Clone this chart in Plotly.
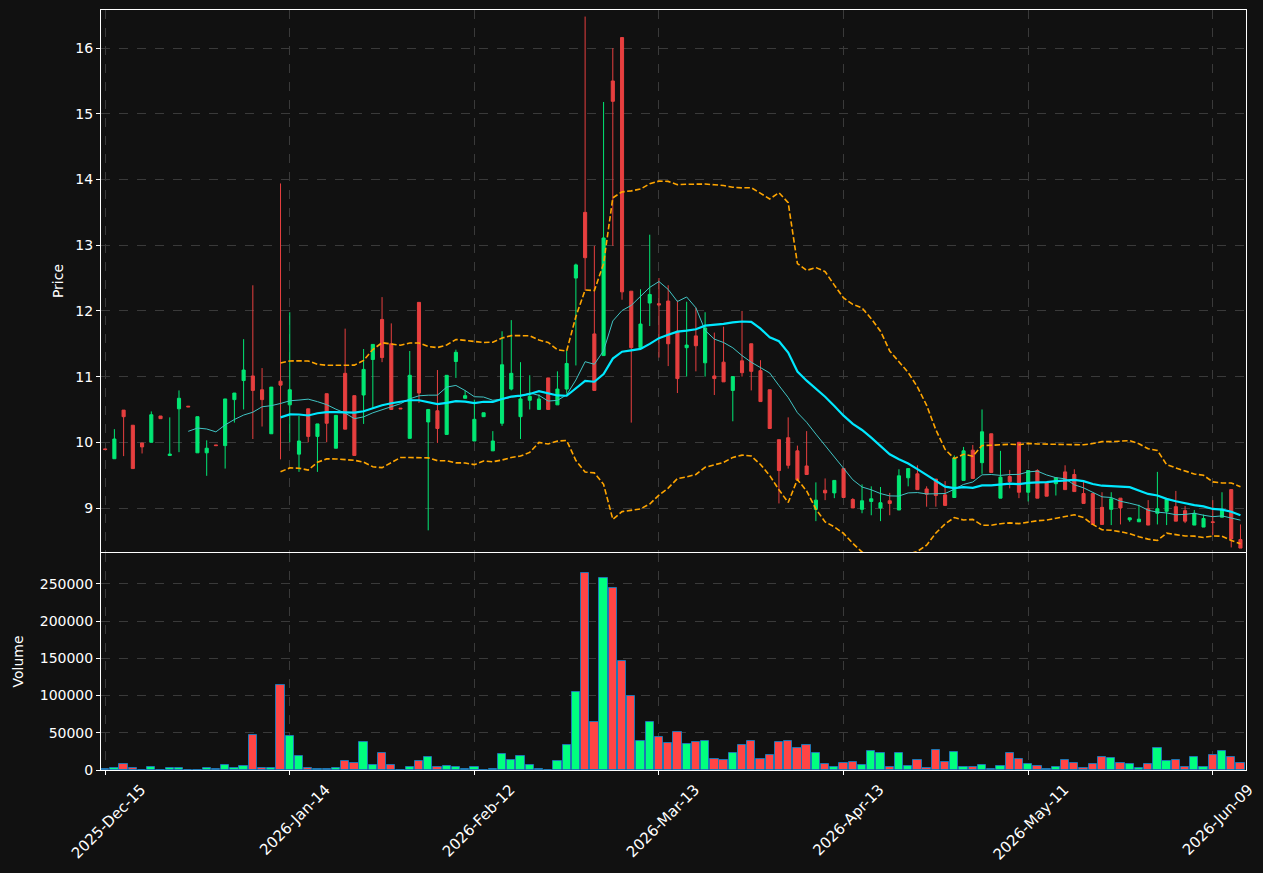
import numpy as np
import pandas as pd
import plotly.graph_objects as go

# ---------------- data ----------------
holidays = ["2025-12-25", "2026-01-01", "2026-01-19", "2026-02-16", "2026-04-03", "2026-05-25"]
start_date = "2025-12-15"

opens = [9.90, 9.75, 10.49, 10.26, 9.99, 10.00, 10.40, 9.80, 10.51, 10.55,
         9.84, 9.84, 9.96, 9.95, 10.65, 10.94, 11.01, 10.80, 10.13, 10.93,
         10.57, 9.82, 10.51, 10.09, 10.74, 9.91, 11.05, 10.71, 10.72, 11.26,
         11.87, 11.50, 10.52, 10.06, 12.13, 10.31, 10.48, 10.12, 11.23, 10.67,
         10.02, 10.39, 9.87, 10.29, 10.81, 10.39, 10.64, 10.50, 10.98, 10.57,
         10.81, 12.50, 13.50, 11.65, 11.32, 15.50, 16.16, 12.30, 11.44, 12.12,
         12.11, 12.15, 11.69, 11.44, 11.62, 11.21, 11.01, 11.22, 10.79, 11.24,
         11.50, 11.09, 10.80, 10.04, 10.07, 9.87, 9.64, 8.98, 9.27, 9.23,
         9.60, 9.13, 8.98, 9.10, 9.00, 9.11, 8.97, 9.46, 9.52, 9.29,
         9.44, 9.20, 9.16, 9.42, 9.88, 9.69, 10.13, 9.15, 9.48, 10.00,
         9.24, 9.57, 9.38, 9.37, 9.55, 9.51, 9.22, 9.22, 9.01, 8.98,
         9.15, 8.82, 8.79, 8.99, 8.92, 8.95, 9.02, 8.96, 8.74, 8.71,
         8.79, 8.86, 9.28, 8.52]
highs = [9.90, 10.20, 10.49, 10.26, 9.99, 10.47, 10.40, 10.38, 10.79, 10.55,
         10.39, 10.03, 9.96, 10.66, 10.75, 11.57, 12.39, 11.13, 10.84, 13.94,
         11.98, 10.40, 10.51, 10.28, 10.74, 10.41, 11.73, 10.71, 11.42, 11.49,
         12.21, 11.81, 10.52, 11.39, 12.13, 10.50, 11.10, 11.02, 11.41, 10.79,
         10.65, 10.45, 10.17, 11.69, 11.86, 11.22, 11.02, 10.73, 10.98, 11.08,
         11.40, 12.72, 16.48, 12.99, 15.18, 16.00, 16.16, 12.30, 12.33, 13.16,
         12.50, 12.39, 12.16, 12.14, 12.05, 11.98, 11.67, 11.76, 11.00, 12.00,
         11.50, 11.25, 10.80, 10.04, 10.38, 9.95, 10.17, 9.39, 9.45, 9.42,
         9.60, 9.15, 9.36, 9.33, 9.32, 9.23, 9.59, 9.60, 9.65, 9.33,
         9.44, 9.41, 9.80, 9.93, 9.96, 10.50, 10.13, 9.87, 9.58, 10.00,
         9.57, 9.59, 9.38, 9.46, 9.65, 9.59, 9.42, 9.22, 9.24, 9.24,
         9.15, 8.85, 9.05, 9.12, 9.55, 9.13, 9.26, 9.03, 8.97, 8.90,
         9.12, 9.24, 9.28, 8.75]
lows = [9.89, 9.75, 9.79, 9.60, 9.83, 10.00, 10.36, 9.80, 9.85, 10.54,
        9.84, 9.49, 9.95, 9.60, 10.30, 10.50, 10.05, 10.24, 10.13, 9.74,
        10.00, 9.55, 10.00, 9.55, 10.00, 9.91, 10.20, 9.80, 10.28, 10.51,
        11.22, 10.50, 10.51, 10.06, 10.60, 8.66, 9.99, 10.12, 10.98, 10.67,
        10.02, 10.39, 9.87, 10.25, 10.79, 10.05, 10.50, 10.50, 10.50, 10.57,
        10.74, 11.17, 12.31, 10.79, 11.32, 12.99, 12.17, 10.30, 11.44, 11.77,
        11.29, 11.16, 10.75, 11.00, 11.08, 11.00, 10.72, 10.92, 10.32, 11.00,
        10.79, 10.62, 10.21, 9.07, 9.60, 9.43, 9.51, 8.80, 9.12, 9.15,
        9.16, 9.00, 8.92, 8.89, 8.80, 8.89, 8.97, 9.33, 9.28, 9.02,
        9.02, 9.03, 9.16, 9.42, 9.45, 9.52, 9.54, 9.15, 9.30, 9.15,
        9.10, 9.15, 9.18, 9.19, 9.28, 9.25, 9.07, 8.75, 8.75, 8.74,
        8.75, 8.79, 8.79, 8.74, 8.75, 8.74, 8.80, 8.77, 8.74, 8.71,
        8.59, 8.86, 8.40, 8.39]
closes = [9.89, 10.05, 10.39, 9.60, 9.93, 10.42, 10.36, 9.82, 10.67, 10.54,
          10.39, 9.91, 9.95, 10.66, 10.75, 11.10, 10.79, 10.65, 10.84, 10.87,
          10.80, 10.02, 10.09, 10.28, 10.29, 10.41, 10.20, 9.80, 11.11, 11.49,
          11.29, 10.50, 10.51, 11.02, 10.75, 10.50, 10.21, 11.02, 11.37, 10.71,
          10.35, 10.45, 10.02, 11.18, 11.05, 10.66, 10.70, 10.66, 10.50, 10.81,
          11.20, 12.70, 12.81, 10.79, 13.11, 15.19, 12.29, 11.44, 11.80, 12.25,
          12.09, 11.50, 10.97, 11.48, 11.47, 11.74, 10.97, 10.92, 11.00, 11.06,
          11.08, 10.62, 10.21, 9.57, 9.65, 9.43, 9.51, 9.12, 9.23, 9.42,
          9.16, 9.00, 9.11, 9.14, 9.08, 9.07, 9.49, 9.60, 9.28, 9.21,
          9.19, 9.04, 9.76, 9.87, 9.45, 10.16, 9.54, 9.47, 9.40, 9.24,
          9.57, 9.15, 9.18, 9.46, 9.28, 9.25, 9.07, 8.75, 8.75, 9.14,
          9.00, 8.85, 8.83, 8.74, 8.99, 9.13, 8.80, 8.80, 8.92, 8.84,
          8.78, 8.97, 8.53, 8.39]
volumes = [1000, 2000, 8500, 2000, 500, 4500, 500, 2000, 2000, 500,
           200, 3000, 1000, 7000, 3000, 6000, 46400, 2000, 3000, 114000,
           45000, 19400, 3000, 1500, 1500, 3000, 12600, 9900, 37000, 7200,
           23400, 7200, 300, 4500, 12600, 18000, 4500, 5900, 4500, 1800,
           4500, 500, 1800, 22000, 14000, 19400, 7200, 1800, 500, 12600,
           34000, 104500, 265000, 65000, 258500, 245000, 146000, 99000, 39600, 64000,
           43700, 35600, 50500, 35000, 37000, 38300, 15300, 13500, 23400, 34200,
           39600, 15300, 20700, 37000, 38300, 30200, 34200, 23400, 8600, 4500,
           9900, 11300, 7200, 26000, 23400, 4500, 23400, 5900, 14000, 3200,
           27500, 11300, 24800, 4500, 4500, 7200, 1800, 5900, 23400, 15300,
           8600, 5900, 1800, 4500, 14000, 9900, 3200, 8600, 18000, 16700,
           9900, 8600, 3200, 8600, 30200, 12600, 14000, 4500, 18000, 4500,
           20700, 26000, 18000, 9900]
tick_step = 20

# ---------------- derived ----------------
n = len(closes)
dates = pd.bdate_range(start_date, periods=n, freq="C", holidays=holidays)
x = np.arange(n)
close_s = pd.Series(closes)
ma10 = close_s.rolling(10).mean()
ma20 = close_s.rolling(20).mean()
sd20 = close_s.rolling(20).std(ddof=0)
bb_up = ma20 + 2 * sd20
bb_lo = ma20 - 2 * sd20

tickvals = list(range(0, n, tick_step))
ticktext = [dates[i].strftime("%Y-%b-%d") for i in tickvals]

UP_C = "#02e774"
DN_C = "#e73f3f"
UP_V = "#00ff7f"
DN_V = "#ff4545"
vol_colors = [UP_V if c >= o else DN_V for o, c in zip(opens, closes)]

BG = "#111111"
GRID = "#3a3a3a"
FONT = "DejaVu Sans"

fig = go.Figure()
fig.add_trace(go.Candlestick(
    x=x, open=opens, high=highs, low=lows, close=closes,
    increasing=dict(line=dict(color=UP_C, width=1), fillcolor=UP_C),
    decreasing=dict(line=dict(color=DN_C, width=1), fillcolor=DN_C),
    whiskerwidth=0, xaxis="x", yaxis="y", showlegend=False,
))
fig.add_trace(go.Scatter(x=x, y=ma10, mode="lines", line=dict(color="#40c4c4", width=1),
                         xaxis="x", yaxis="y", showlegend=False))
fig.add_trace(go.Scatter(x=x, y=ma20, mode="lines", line=dict(color="#00e8ff", width=2.2),
                         xaxis="x", yaxis="y", showlegend=False))
fig.add_trace(go.Scatter(x=x, y=bb_up, mode="lines",
                         line=dict(color="#ffa500", width=1.6, dash="5.5px,2.5px"),
                         xaxis="x", yaxis="y", showlegend=False))
fig.add_trace(go.Scatter(x=x, y=bb_lo, mode="lines",
                         line=dict(color="#ffa500", width=1.6, dash="5.5px,2.5px"),
                         xaxis="x", yaxis="y", showlegend=False))
fig.add_trace(go.Bar(x=x, y=volumes, width=0.9,
                     marker=dict(color=vol_colors, line=dict(color="#1f77b4", width=1)),
                     xaxis="x2", yaxis="y2", showlegend=False))

xr = [-0.45, n - 0.4]
axis_common = dict(showline=True, linecolor="white", linewidth=1, mirror=True,
                   gridcolor=GRID, griddash="dash", gridwidth=1, zeroline=False,
                   tickcolor="white", ticklen=4, tickwidth=1, automargin=False)
tick_font = dict(family=FONT, size=14, color="white")

fig.update_layout(
    width=1263, height=873,
    margin=dict(l=101, r=17, t=10, b=103),
    paper_bgcolor=BG, plot_bgcolor=BG,
    font=dict(family=FONT, size=14, color="white"),
    showlegend=False,
    boxgap=0.52,
    bargap=0,
    xaxis=dict(domain=[0, 1], anchor="y", range=xr, tickvals=tickvals, ticktext=ticktext,
               showticklabels=False, ticks="", showgrid=True,
               rangeslider=dict(visible=False), tickfont=tick_font, **axis_common),
    yaxis=dict(domain=[0.2868, 1.0], anchor="x", range=[8.33, 16.58],
               tickvals=list(range(9, 17)), ticks="outside", showgrid=True,
               title=dict(text="Price", font=dict(family=FONT, size=14, color="white"), standoff=8),
               tickfont=tick_font, **axis_common),
    xaxis2=dict(domain=[0, 1], anchor="y2", range=xr, tickvals=tickvals, ticktext=ticktext,
                tickangle=-45, ticks="outside", showgrid=True, matches="x",
                ticklabelshift=36, tickfont=dict(family=FONT, size=15, color="white"),
                **axis_common),
    yaxis2=dict(domain=[0, 0.2855], anchor="x2", range=[0, 291500],
                tickvals=[0, 50000, 100000, 150000, 200000, 250000], tickformat="d",
                ticks="outside", showgrid=True,
                title=dict(text="Volume", font=dict(family=FONT, size=14, color="white"), standoff=12),
                tickfont=tick_font, **axis_common),
)

fig.write_html("out.html")
